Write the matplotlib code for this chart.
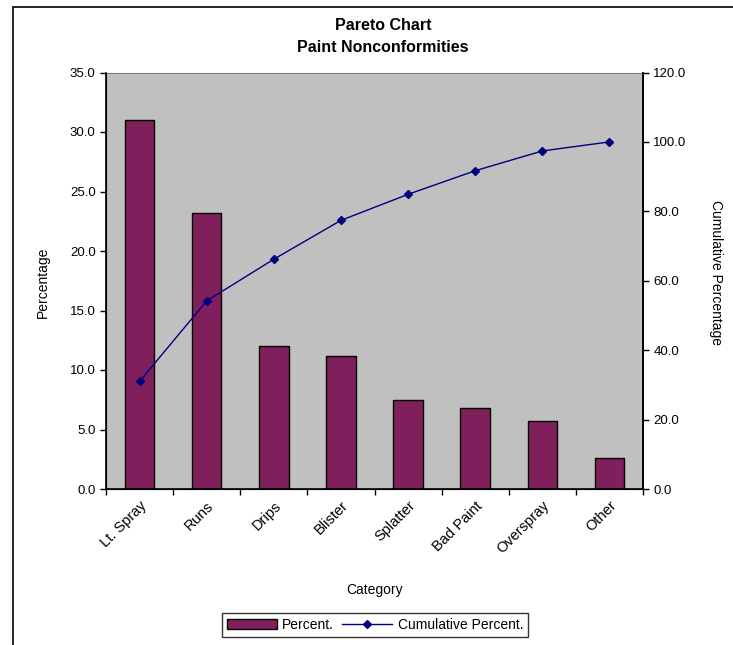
import numpy as np
import matplotlib
matplotlib.use('Agg')
import matplotlib.pyplot as plt
from matplotlib.patches import Rectangle
from matplotlib.lines import Line2D
from matplotlib.ticker import FormatStrFormatter

plt.rcParams['font.family'] = ['Liberation Sans', 'DejaVu Sans']

# data
categories = ['Lt. Spray', 'Runs', 'Drips', 'Blister', 'Splatter',
              'Bad Paint', 'Overspray', 'Other']
percent = [31.0, 23.2, 12.0, 11.2, 7.5, 6.8, 5.7, 2.6]
cumulative = np.cumsum(percent)

BAR_COLOR = '#7f1f5c'
LINE_COLOR = '#000080'
PLOT_BG = '#c0c0c0'

W, H = 733, 645
fig = plt.figure(figsize=(W / 100, H / 100), dpi=100)

# outer chart frame (cut off at right/bottom like the screenshot)
fig.patches.append(Rectangle((13 / W, -0.1), 1.2, 1.1 - 7 / H, transform=fig.transFigure,
                             fill=False, edgecolor='black', linewidth=1.2))

ax = fig.add_axes([106 / W, 1 - 489 / H, 537 / W, 416.5 / H])
ax.set_facecolor(PLOT_BG)
x = np.arange(len(categories))
ax.bar(x, percent, width=0.44, color=BAR_COLOR, edgecolor='black', linewidth=1.0, zorder=2)
ax.set_xlim(-0.5, len(categories) - 0.5)
ax.set_ylim(0, 35)
ax.set_yticks(np.arange(0, 35.1, 5))
ax.yaxis.set_major_formatter(FormatStrFormatter('%.1f'))

# tick marks sit between categories, labels under the bars
ax.set_xticks(np.arange(-0.5, len(categories), 1.0))
ax.set_xticklabels([])
ax.set_xticks(x, minor=True)
ax.set_xticklabels(categories, minor=True, rotation=45, ha='right', va='top',
                   rotation_mode='anchor', fontsize=10.5)
ax.tick_params(axis='x', which='minor', length=0, pad=7)
ax.tick_params(axis='x', which='major', direction='out', length=4, width=1)
ax.tick_params(axis='y', direction='out', length=4, width=1, labelsize=9.5)

for side in ('left', 'bottom', 'right'):
    ax.spines[side].set_color('black')
    ax.spines[side].set_linewidth(1.2)
ax.spines['top'].set_color('#808080')

ax2 = ax.twinx()
ax2.plot(x, cumulative, color=LINE_COLOR, linewidth=1.0, marker='D',
         markersize=4.5, markerfacecolor=LINE_COLOR, zorder=3)
ax2.set_ylim(0, 120)
ax2.set_yticks(np.arange(0, 120.1, 20))
ax2.yaxis.set_major_formatter(FormatStrFormatter('%.1f'))
ax2.tick_params(axis='y', direction='out', length=4, width=1, labelsize=9.5)
ax2.spines['right'].set_linewidth(1.2)
ax2.spines['top'].set_visible(False)

fig.text(383 / W, 1 - 25 / H, 'Pareto Chart', ha='center', va='center',
         fontsize=11.5, fontweight='bold')
fig.text(383 / W, 1 - 48 / H, 'Paint Nonconformities', ha='center', va='center',
         fontsize=11.5, fontweight='bold')
fig.text(375 / W, 1 - 590 / H, 'Category', ha='center', va='center', fontsize=10)
fig.text(43 / W, 1 - 282 / H, 'Percentage', ha='center', va='center',
         rotation=90, fontsize=10)
fig.text(716 / W, 1 - 272 / H, 'Cumulative Percentage', ha='center', va='center',
         rotation=-90, fontsize=10)

handles = [Rectangle((0, 0), 1, 1, facecolor=BAR_COLOR, edgecolor='black', linewidth=1.0),
           Line2D([], [], color=LINE_COLOR, linewidth=1.0, marker='D', markersize=4.5)]
leg = fig.legend(handles, ['Percent.', 'Cumulative Percent.'], loc='center',
                 bbox_to_anchor=(375 / W, 1 - 625 / H), ncol=2, fontsize=10,
                 frameon=True, fancybox=False, edgecolor='black', handlelength=3.6,
                 handletextpad=0.4, columnspacing=0.6, borderpad=0.35)
leg.get_frame().set_linewidth(1.0)

fig.savefig('out.png', dpi=100)
